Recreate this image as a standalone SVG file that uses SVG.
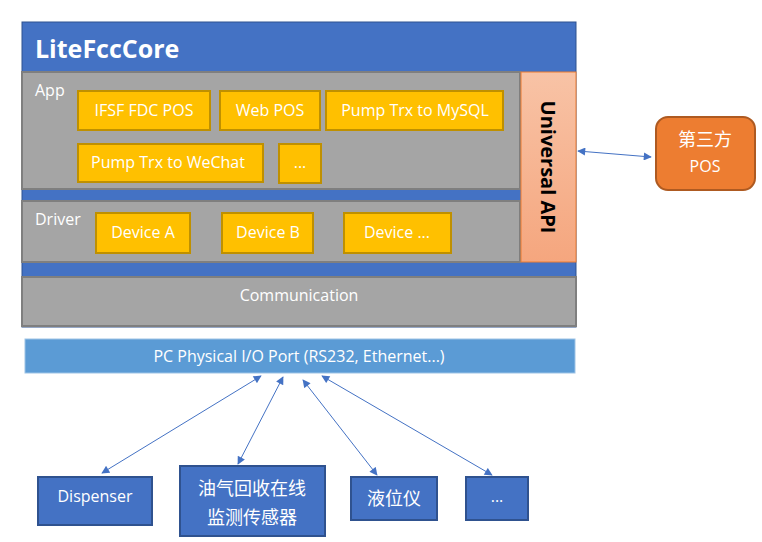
<svg xmlns="http://www.w3.org/2000/svg" width="762" height="542" viewBox="0 0 762 542">
<style>
text{font-family:"Open Sans","Noto Sans CJK SC",sans-serif;}
.w{fill:#fff;font-size:16px;}
.zh{font-family:"Noto Sans CJK SC",sans-serif;font-size:18px;}
.c{text-anchor:middle;}
.y{fill:#FFC000;stroke:#BF9000;stroke-width:2;}
.g{fill:#A5A5A5;stroke:#7F7F7F;stroke-width:2;}
.b{fill:#4472C4;stroke:#2F528F;stroke-width:2;}
.ln{stroke:#4472C4;stroke-width:1;fill:none;marker-start:url(#ah);marker-end:url(#ah);}
</style>
<defs>
<linearGradient id="api" x1="0" y1="0" x2="0" y2="1">
<stop offset="0" stop-color="#F8C3A6"/>
<stop offset="1" stop-color="#F5A67E"/>
</linearGradient>
<marker id="ah" viewBox="0 0 10 10" refX="9" refY="5" markerWidth="10" markerHeight="8" markerUnits="userSpaceOnUse" orient="auto-start-reverse">
<path d="M0,0 L10,5 L0,10 z" fill="#4472C4"/>
</marker>
</defs>
<rect width="762" height="542" fill="#fff"/>
<g id="core">
<rect x="22" y="22" width="554" height="305" fill="#4472C4" stroke="#2F528F" stroke-width="1"/>
<text x="35" y="58" fill="#fff" font-size="25" font-weight="bold">LiteFccCore</text>
</g>
<g id="app">
<rect class="g" x="22" y="72" width="498" height="117"/>
<text class="w" x="35" y="96">App</text>
</g>
<g id="driver">
<rect class="g" x="22" y="201" width="498" height="61"/>
<text class="w" x="35" y="225">Driver</text>
</g>
<g id="communication">
<rect class="g" x="22" y="277" width="554" height="49"/>
<text class="w c" x="299" y="301">Communication</text>
</g>
<g id="api-box">
<rect x="521" y="72" width="55" height="190" fill="url(#api)" stroke="#ED7D31" stroke-width="1"/>
<text transform="translate(541,167) rotate(90)" class="c" font-size="20" font-weight="bold" fill="#000">Universal API</text>
</g>
<g id="ifsf"><rect class="y" x="78" y="91" width="132" height="39"/><text class="w c" x="144" y="116">IFSF FDC POS</text></g>
<g id="webpos"><rect class="y" x="220" y="91" width="100" height="39"/><text class="w c" x="270" y="116">Web POS</text></g>
<g id="mysql"><rect class="y" x="326" y="91" width="177" height="39"/><text class="w c" x="415" y="116">Pump Trx to MySQL</text></g>
<g id="wechat"><rect class="y" x="78" y="144" width="185" height="38"/><text class="w c" x="168" y="168">Pump Trx to WeChat</text></g>
<g id="appmore"><rect class="y" x="279" y="144" width="42" height="39"/><text class="w c" x="300" y="168">...</text></g>
<g id="deva"><rect class="y" x="96" y="213" width="94" height="40"/><text class="w c" x="143" y="238">Device A</text></g>
<g id="devb"><rect class="y" x="222" y="213" width="91" height="40"/><text class="w c" x="268" y="238">Device B</text></g>
<g id="devmore"><rect class="y" x="344" y="213" width="107" height="40"/><text class="w c" x="397" y="238">Device ...</text></g>
<g id="port">
<rect x="25" y="339" width="550" height="34" fill="#5B9BD5" stroke="#9DC3E6" stroke-width="1"/>
<text class="w c" x="299" y="362">PC Physical I/O Port (RS232, Ethernet...)</text>
</g>
<g id="thirdpos">
<rect x="656" y="117" width="99" height="73" rx="12" fill="#ED7D31" stroke="#AE5A21" stroke-width="2"/>
<text class="w c zh" x="705" y="146" font-size="16">第三方</text>
<text class="w c" x="705" y="172">POS</text>
</g>
<g id="dispenser"><rect class="b" x="38" y="477" width="114" height="48"/><text class="w c" x="95" y="502">Dispenser</text></g>
<g id="sensor"><rect class="b" x="180" y="466" width="145" height="70"/><text class="w c zh" x="252" y="495">油气回收在线</text><text class="w c zh" x="252" y="524">监测传感器</text></g>
<g id="level"><rect class="b" x="351" y="477" width="86" height="43"/><text class="w c zh" x="394" y="505">液位仪</text></g>
<g id="devicemore"><rect class="b" x="466" y="477" width="62" height="43"/><text class="w c" x="497" y="502">...</text></g>
<g id="connectors">
<line class="ln" x1="578" y1="151" x2="651" y2="157"/>
<line class="ln" x1="261" y1="376" x2="102" y2="473"/>
<line class="ln" x1="283" y1="377" x2="238" y2="464"/>
<line class="ln" x1="303" y1="380" x2="377" y2="475"/>
<line class="ln" x1="322" y1="376" x2="492" y2="475"/>
</g>
</svg>
